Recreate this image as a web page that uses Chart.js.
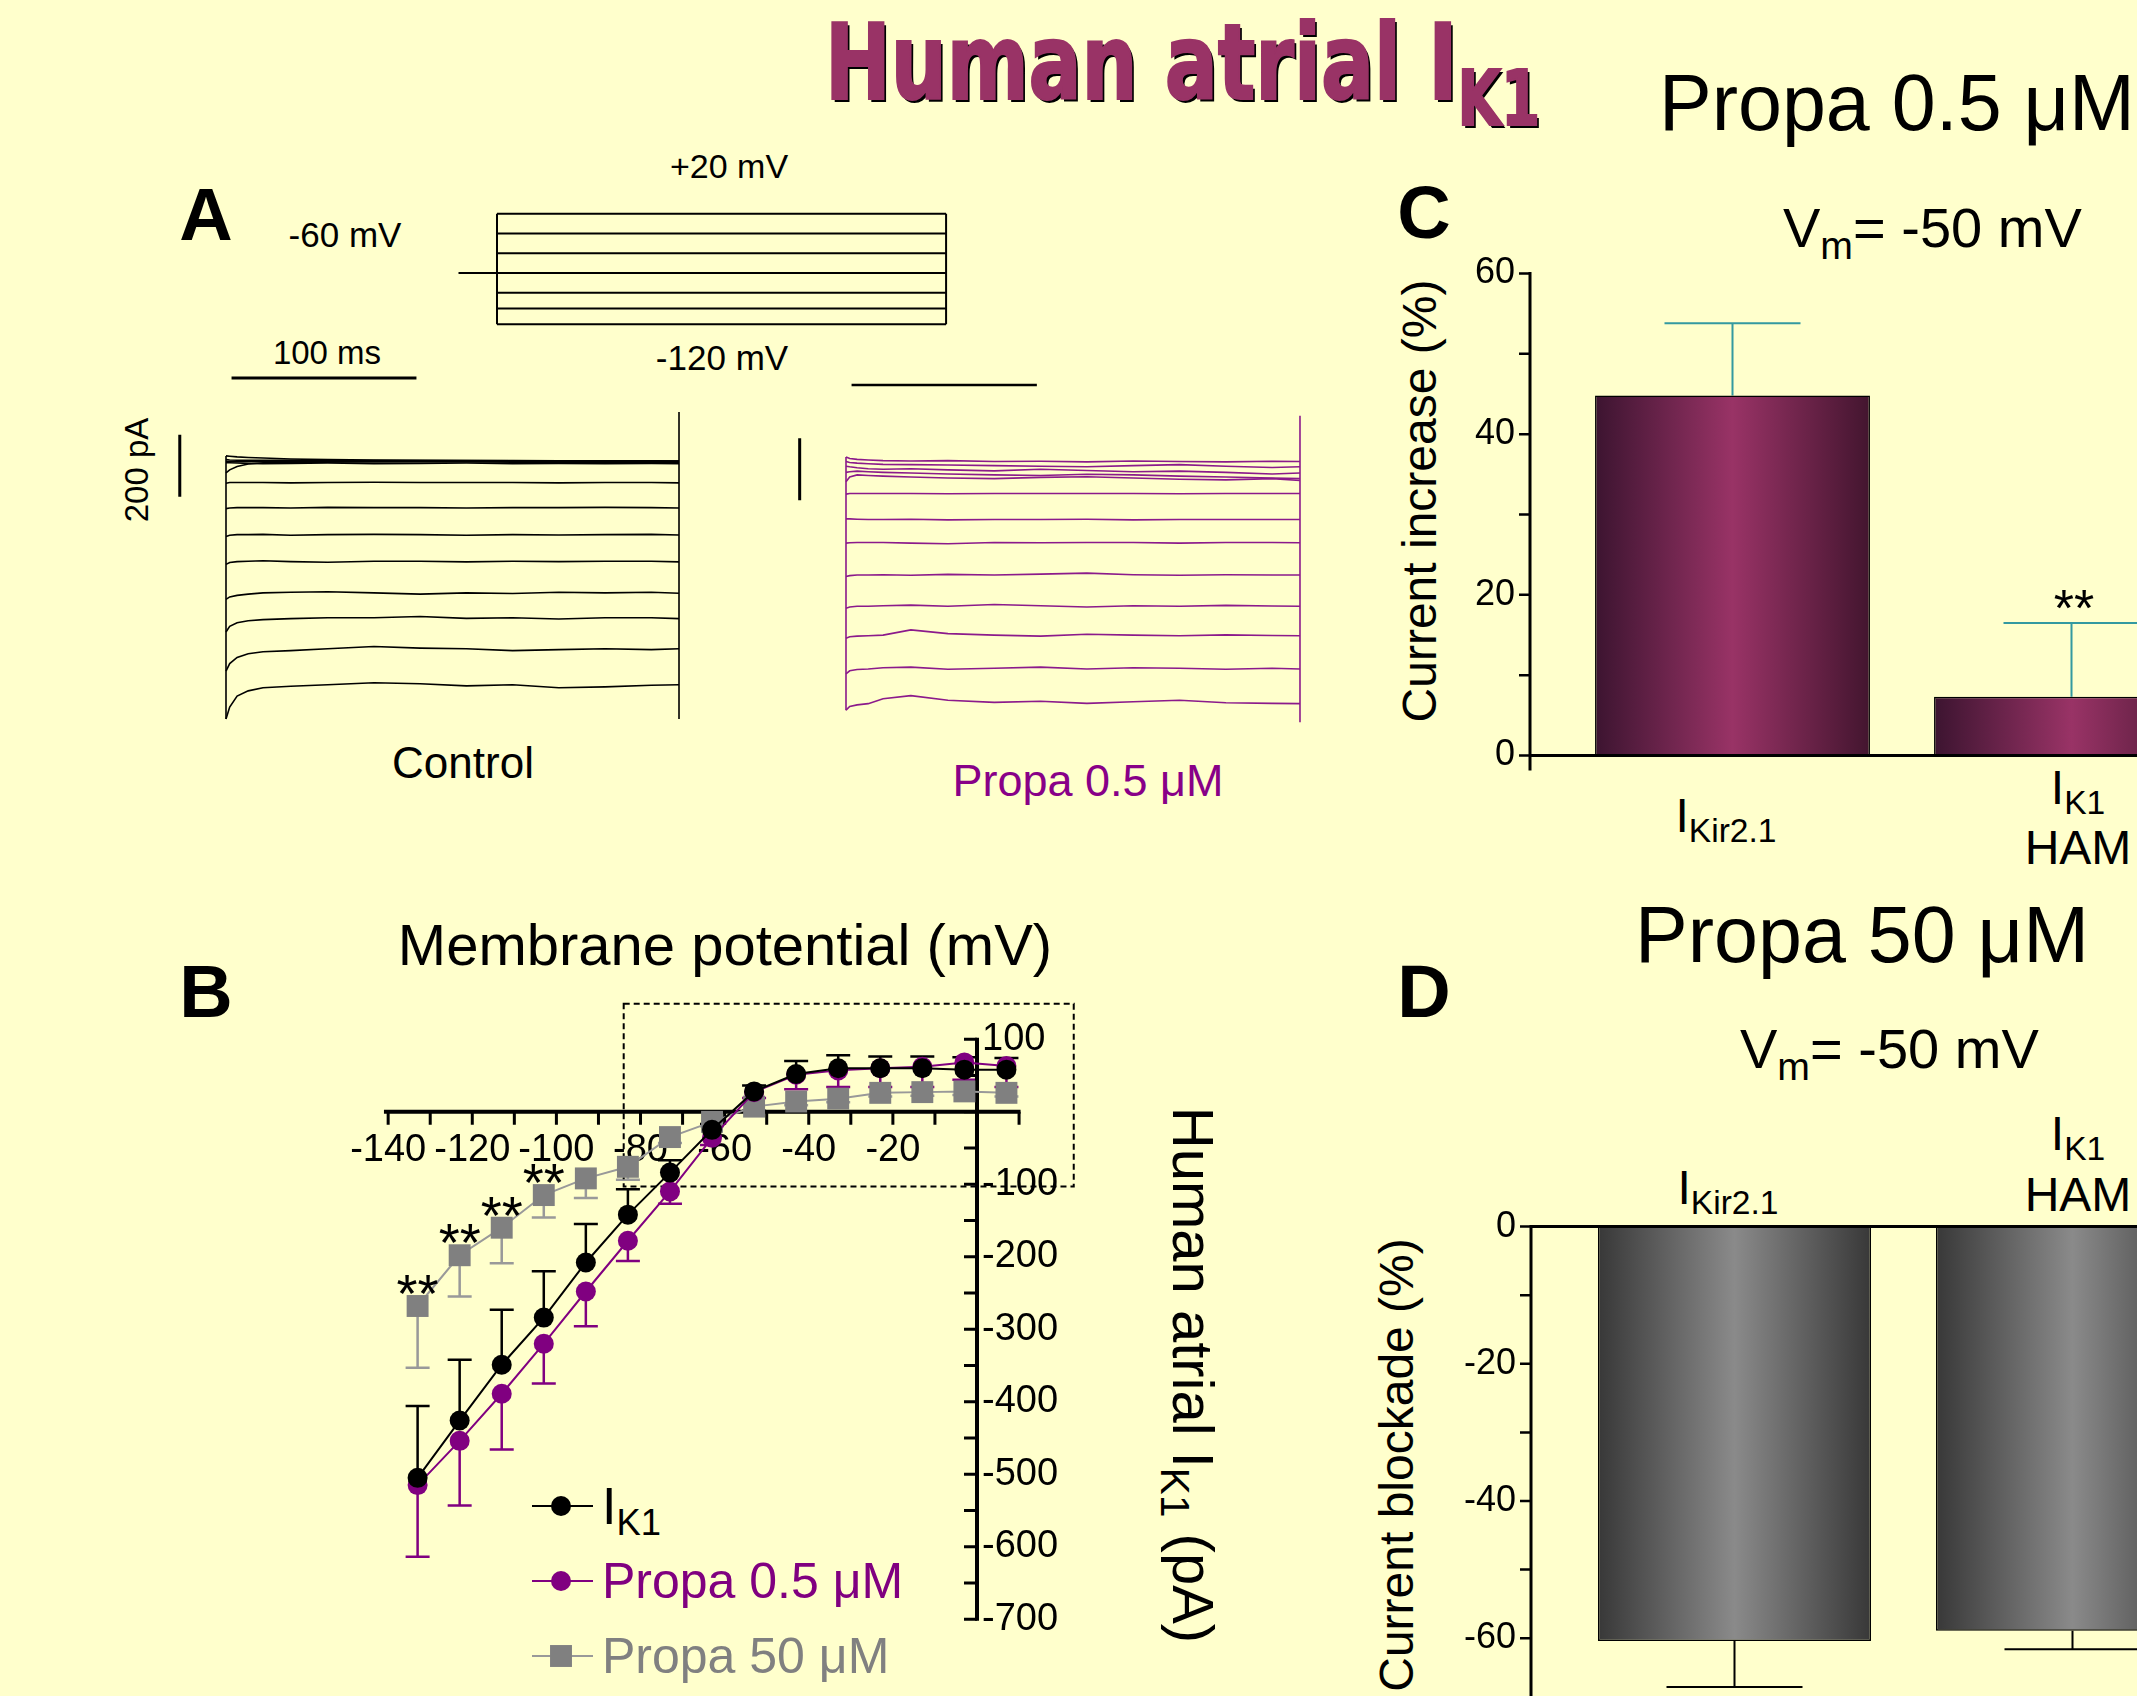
<!DOCTYPE html>
<html>
<head>
<meta charset="utf-8">
<title>Human atrial IK1</title>
<script src="https://cdn.jsdelivr.net/npm/chart.js@4.4.1/dist/chart.umd.min.js"></script>
<style>
  html, body { margin: 0; padding: 0; background: #ffffcc; }
  body { position: relative; width: 2137px; height: 1696px; overflow: hidden;
         font-family: "Liberation Sans", Arial, Helvetica, sans-serif; color: #000; }
  canvas { position: absolute; }
  .t { position: absolute; white-space: nowrap; line-height: 1; }
  .c { transform: translate(-50%, -50%); }
  .l { transform: translateY(-50%); }
  .up { transform: translate(-50%, -50%) rotate(-90deg); }
  .down { transform: translate(-50%, -50%) rotate(90deg); }
  .b { font-weight: bold; font-size: 74px; }
  sub { font-size: 70%; vertical-align: baseline; position: relative; top: 0.3em; }
  .purple { color: #880088; }
  .grey { color: #808080; }
  #title { left: 825px; top: 10px; font-family: "DejaVu Sans Condensed", "DejaVu Sans", sans-serif;
           font-weight: bold; font-size: 106px; color: #993366; text-shadow: 3px 3px 0 #000;
           -webkit-text-stroke: 2px #993366; transform-origin: 0 0; }
  #title span { font-size: 76px; position: relative; top: 26px; }
</style>
</head>
<body>

<div id="title" class="t">Human atrial I<span>K1</span></div>
<div class="t" style="left:1659px;top:63px;font-size:79px">Propa 0.5 μM</div>

<div class="t c b" style="left:206px;top:215px">A</div>
<div class="t c b" style="left:206px;top:992px">B</div>
<div class="t c b" style="left:1424px;top:213px">C</div>
<div class="t c b" style="left:1424px;top:992px">D</div>

<!-- panel A -->
<div class="t c" style="left:729px;top:166px;font-size:34px">+20 mV</div>
<div class="t c" style="left:345px;top:234px;font-size:35px">-60 mV</div>
<div class="t c" style="left:327px;top:352px;font-size:33px">100 ms</div>
<div class="t c" style="left:722px;top:357px;font-size:35px">-120 mV</div>
<div class="t up" style="left:136px;top:470px;font-size:33px">200 pA</div>
<div class="t c" style="left:463px;top:763px;font-size:44px">Control</div>
<div class="t c purple" style="left:1088px;top:780px;font-size:45px">Propa 0.5 μM</div>

<!-- panel B -->
<div class="t c" style="left:725px;top:945px;font-size:58px">Membrane potential (mV)</div>
<div class="t down" style="left:1193px;top:1375px;font-size:58px">Human atrial I<sub>K1</sub> (pA)</div>
<div class="t l" style="left:602px;top:1506px;font-size:52px">I<sub>K1</sub></div>
<div class="t l" style="left:602px;top:1581px;font-size:50px;color:#800080">Propa 0.5 μM</div>
<div class="t l grey" style="left:602px;top:1656px;font-size:50px">Propa 50 μM</div>

<!-- panel C -->
<div class="t l" style="left:1783px;top:228px;font-size:56px">V<sub>m</sub>= -50 mV</div>
<div class="t up" style="left:1420px;top:501px;font-size:48px">Current increase (%)</div>
<div class="t c" style="left:1726px;top:816px;font-size:48px">I<sub>Kir2.1</sub></div>
<div class="t c" style="left:2078px;top:788px;font-size:48px">I<sub>K1</sub></div>
<div class="t c" style="left:2078px;top:848px;font-size:48px">HAM</div>
<div class="t c" style="left:2074px;top:608px;font-size:52px">**</div>

<!-- panel D -->
<div class="t c" style="left:1862px;top:934px;font-size:79px">Propa 50 μM</div>
<div class="t l" style="left:1740px;top:1049px;font-size:56px">V<sub>m</sub>= -50 mV</div>
<div class="t up" style="left:1397px;top:1465px;font-size:48px">Current blockade (%)</div>
<div class="t c" style="left:1728px;top:1188px;font-size:48px">I<sub>Kir2.1</sub></div>
<div class="t c" style="left:2078px;top:1134px;font-size:48px">I<sub>K1</sub></div>
<div class="t c" style="left:2078px;top:1195px;font-size:48px">HAM</div>

<canvas id="protocol"></canvas>
<canvas id="control"></canvas>
<canvas id="propa"></canvas>
<canvas id="iv"></canvas>
<canvas id="increase"></canvas>
<canvas id="blockade"></canvas>

<script>
// ---------- data ----------

// panel A: voltage protocol (mV) and current traces (pA)
const pulseMs = 245;
const stepVoltages = [20, -5, -30, -55, -80, -100, -120];
const holdingVoltage = -55;
const scaleMs = 100;
const scalePa = 200;

const traceTimes = [0, 2, 6, 12, 20, 35, 55, 80, 105, 130, 155, 180, 205, 230, 245];

const controlTraces = [
  [10, 9, 7, 5, 3, 0, -2, -3, -4, -5, -5, -6, -6, -6, -7],
  [-2, -3, -4, -4, -4, -4, -5, -5, -5, -5, -6, -6, -6, -6, -7],
  [-8, -8, -9, -8, -8, -9, -8, -9, -8, -9, -8, -9, -8, -9, -8],
  [-45, -35, -24, -16, -12, -10, -10, -9, -9, -9, -10, -10, -10, -10, -10],
  [-12, -12, -13, -14, -15, -14, -13, -15, -14, -13, -15, -14, -15, -14, -15],
  [-78, -76, -76, -76, -76, -77, -76, -75, -76, -76, -76, -77, -76, -76, -77],
  [-160, -158, -157, -157, -157, -158, -156, -157, -157, -158, -157, -157, -156, -157, -158],
  [-250, -246, -244, -244, -243, -246, -244, -243, -244, -246, -244, -245, -244, -243, -245],
  [-340, -334, -331, -330, -328, -331, -333, -330, -330, -332, -330, -331, -330, -330, -332],
  [-453, -445, -440, -436, -432, -430, -428, -432, -436, -432, -434, -430, -432, -430, -433],
  [-558, -540, -528, -522, -518, -515, -512, -512, -508, -514, -512, -516, -512, -512, -515],
  [-684, -660, -640, -628, -622, -618, -612, -605, -610, -612, -618, -615, -612, -615, -612],
  [-839, -800, -765, -748, -738, -733, -728, -722, -725, -732, -728, -738, -735, -730, -728]
];
const controlTail = [152, -839];

const propaTraces = [
  [10, 5, 2, 0, -2, -3, -2, -5, -4, -6, -3, -5, -6, -4, -5],
  [-5, -8, -10, -12, -14, -15, -16, -18, -20, -22, -18, -15, -20, -24, -22],
  [-20, -22, -25, -28, -30, -28, -32, -35, -30, -34, -38, -36, -40, -45, -42],
  [-40, -38, -36, -38, -40, -42, -45, -48, -50, -46, -48, -52, -55, -58, -60],
  [-70, -55, -48, -50, -52, -55, -58, -60, -56, -54, -58, -62, -64, -60, -66],
  [-110, -108, -108, -108, -108, -108, -109, -108, -108, -108, -108, -109, -108, -108, -108],
  [-190, -190, -191, -192, -192, -191, -193, -192, -192, -191, -193, -192, -192, -192, -192],
  [-268, -267, -266, -266, -266, -268, -270, -266, -267, -266, -266, -268, -266, -266, -267],
  [-376, -373, -371, -371, -370, -372, -369, -371, -368, -365, -370, -372, -370, -371, -371],
  [-478, -474, -472, -472, -470, -468, -472, -466, -470, -474, -470, -472, -469, -471, -472],
  [-575, -570, -568, -567, -565, -548, -560, -565, -568, -562, -565, -567, -564, -566, -567],
  [-690, -680, -676, -674, -670, -668, -675, -672, -668, -674, -670, -672, -675, -672, -674],
  [-807, -795, -790, -786, -770, -760, -775, -782, -778, -785, -780, -775, -783, -785, -786]
];
const propaTail = [143, -846];

// panel B: I-V relationship
const membraneV = [-133, -123, -113, -103, -93, -83, -73, -63, -53, -43, -33, -23, -13, -3, 7];
const ik1Mean = [-505, -426, -349, -284, -208, -142, -84, -25, 28, 52, 60, 60, 60, 58, 58];
const ik1Sem = [99, 84, 76, 64, 53, 35, 17, 8, 8, 18, 18, 16, 16, 17, 16];
const propa05Mean = [-515, -454, -389, -320, -248, -178, -110, -36, 27, 51, 57, 60, 62, 68, 63];
const propa05Sem = [99, 89, 77, 55, 48, 28, 17, 10, 8, 20, 23, 26, 28, 24, 29];
const propa50Mean = [-268, -198, -160, -115, -92, -76, -35, -14, 7, 14, 18, 26, 27, 28, 26];
const propa50Sem = [85, 57, 49, 31, 27, 18, 8, 6, 5, 5, 5, 5, 5, 5, 5];
const starredPoints = [0, 1, 2, 3];
const xTicksB = [-140, -130, -120, -110, -100, -90, -80, -70, -60, -50, -40, -30, -20, -10, 0, 10];
const xLabelsB = [-140, -120, -100, -80, -60, -40, -20];
const yTicksB = [100, 50, 0, -50, -100, -150, -200, -250, -300, -350, -400, -450, -500, -550, -600, -650, -700];
const yLabelsB = [100, -100, -200, -300, -400, -500, -600, -700];
const zoomBoxV = [-84, 23];
const zoomBoxI = [-103, 149];

// panels C and D
const barLabels = ['IKir2.1', 'IK1 HAM'];
const increaseMean = [44.8, 7.3];
const increaseSem = [9.0, 9.2];
const blockadeMean = [-60.4, -58.9];
const blockadeSem = [6.7, 2.7];
const yTicksC = [0, 10, 20, 30, 40, 50, 60];
const yLabelsC = [0, 20, 40, 60];
const yTicksD = [0, -10, -20, -30, -40, -50, -60, -70];
const yLabelsD = [0, -20, -40, -60];

// ---------- helpers ----------
const FONT = '"Liberation Sans", Arial, Helvetica, sans-serif';

function mount(id, area, pad) {
  const cv = document.getElementById(id);
  const left = Math.floor(area.l - pad[0]), top = Math.floor(area.t - pad[1]);
  const right = Math.ceil(area.r + pad[2]), bottom = Math.ceil(area.b + pad[3]);
  cv.width = right - left;
  cv.height = bottom - top;
  cv.style.left = left + 'px';
  cv.style.top = top + 'px';
  cv.style.width = cv.width + 'px';
  cv.style.height = cv.height + 'px';
  return {
    canvas: cv, origin: { x: left, y: top },
    padding: { left: area.l - left, top: area.t - top, right: right - area.r, bottom: bottom - area.b }
  };
}

// pixel of value 0 and px per unit -> chart area edges
function area(x0, kx, xr, y0, ky, yr) {
  return { l: x0 + kx * xr[0], r: x0 + kx * xr[1], t: y0 - ky * yr[1], b: y0 - ky * yr[0] };
}

function options(m, x, y) {
  return {
    responsive: false, animation: false, devicePixelRatio: 1, events: [],
    layout: { padding: m.padding },
    plugins: { legend: { display: false }, tooltip: { enabled: false } },
    scales: { x: Object.assign({ display: false }, x), y: Object.assign({ display: false }, y) }
  };
}

function path(points, color, width) {
  return {
    data: points.map(([x, y]) => ({ x, y })), showLine: true, borderColor: color,
    borderWidth: width, pointRadius: 0, tension: 0, clip: false, fill: false
  };
}

function traceSets(traces, color, tail) {
  const sets = traces.map(v => path(traceTimes.map((t, i) => [t, v[i]]), color, 1.6));
  const first = traces.map(v => v[0]);
  sets.push(path([[0, Math.max(...first)], [0, Math.min(...first)]], color, 1.6));
  sets.push(path([[pulseMs, tail[0]], [pulseMs, tail[1]]], color, 1.6));
  return sets;
}

const errorBars = {
  id: 'errorBars',
  beforeDatasetsDraw(chart) {
    const { ctx } = chart;
    const ys = chart.scales.y;
    chart.data.datasets.forEach((ds, i) => {
      if (!ds.errors) return;
      const meta = chart.getDatasetMeta(i);
      ctx.save();
      ctx.strokeStyle = ds.errorColor;
      ctx.lineWidth = ds.errorWidth;
      meta.data.forEach((el, j) => {
        const raw = ds.data[j];
        const val = typeof raw === 'object' ? raw.y : raw;
        const y = ys.getPixelForValue(val);
        const end = ys.getPixelForValue(val + ds.errDir * ds.errors[j]);
        ctx.beginPath();
        ctx.moveTo(el.x, y);
        ctx.lineTo(el.x, end);
        ctx.moveTo(el.x - ds.capHalf, end);
        ctx.lineTo(el.x + ds.capHalf, end);
        ctx.stroke();
      });
      ctx.restore();
    });
  }
};

// ---------- panel A ----------
const mP = mount('protocol', area(497, 1.833, [-25, 250], 229.5, 0.79, [-125, 25]), [4, 4, 4, 4]);
const protocolSets = stepVoltages.map(v => path([[0, v], [pulseMs, v]], '#000', 2));
protocolSets.push(path([[-21, holdingVoltage], [0, holdingVoltage]], '#000', 2));
protocolSets.push(path([[0, Math.max(...stepVoltages)], [0, Math.min(...stepVoltages)]], '#000', 2));
protocolSets.push(path([[pulseMs, Math.max(...stepVoltages)], [pulseMs, Math.min(...stepVoltages)]], '#000', 2));
new Chart(mP.canvas, {
  type: 'scatter',
  data: { datasets: protocolSets },
  options: options(mP, { type: 'linear', min: -25, max: 250 }, { type: 'linear', min: -125, max: 25 })
});

const mCtl = mount('control', area(226, 1.849, [-40, 250], 459, 0.31, [-900, 300]), [4, 4, 4, 4]);
const controlSets = traceSets(controlTraces, '#000', controlTail);
controlSets.push(path([[3, 261], [3 + scaleMs, 261]], '#000', 3));
controlSets.push(path([[-25, 78], [-25, 78 - scalePa]], '#000', 3));
new Chart(mCtl.canvas, {
  type: 'scatter',
  data: { datasets: controlSets },
  options: options(mCtl, { type: 'linear', min: -40, max: 250 }, { type: 'linear', min: -900, max: 300 })
});

const mPr = mount('propa', area(846, 1.853, [-40, 250], 460, 0.31, [-900, 300]), [4, 4, 4, 4]);
const propaSets = traceSets(propaTraces, '#8b1a8b', propaTail);
propaSets.push(path([[3, 242], [3 + scaleMs, 242]], '#000', 2.5));
propaSets.push(path([[-25, 70], [-25, 70 - scalePa]], '#000', 3));
new Chart(mPr.canvas, {
  type: 'scatter',
  data: { datasets: propaSets },
  options: options(mPr, { type: 'linear', min: -40, max: 250 }, { type: 'linear', min: -900, max: 300 })
});

// ---------- panel B ----------
const mB = mount('iv', area(977, 4.206, [-141, 10], 1111.7, 0.725, [-700, 100]), [100, 45, 70, 70]);

const axesB = {
  id: 'axesB',
  beforeDatasetsDraw(chart) {
    const { ctx, scales: { x, y } } = chart;
    const x0 = x.getPixelForValue(0), y0 = y.getPixelForValue(0);
    ctx.save();
    // dashed zoom box
    ctx.setLineDash([6, 4]);
    ctx.lineWidth = 2;
    ctx.strokeStyle = '#000';
    const bx1 = x.getPixelForValue(zoomBoxV[0]), bx2 = x.getPixelForValue(zoomBoxV[1]);
    const by1 = y.getPixelForValue(zoomBoxI[1]), by2 = y.getPixelForValue(zoomBoxI[0]);
    ctx.strokeRect(bx1, by1, bx2 - bx1, by2 - by1);
    ctx.setLineDash([]);
    // axis lines
    ctx.lineWidth = 4;
    ctx.beginPath();
    ctx.moveTo(x.getPixelForValue(-141), y0);
    ctx.lineTo(x.getPixelForValue(10) + 1.5, y0);
    ctx.moveTo(x0, y.getPixelForValue(100) - 1.5);
    ctx.lineTo(x0, y.getPixelForValue(-700) + 1.5);
    ctx.stroke();
    ctx.lineWidth = 3;
    ctx.beginPath();
    xTicksB.forEach(v => {
      const px = x.getPixelForValue(v);
      ctx.moveTo(px, y0);
      ctx.lineTo(px, y0 + 13);
    });
    yTicksB.forEach(v => {
      const py = y.getPixelForValue(v);
      ctx.moveTo(x0 - 13, py);
      ctx.lineTo(x0, py);
    });
    ctx.stroke();
    ctx.fillStyle = '#000';
    ctx.font = '38px ' + FONT;
    ctx.textBaseline = 'middle';
    ctx.textAlign = 'center';
    xLabelsB.forEach(v => ctx.fillText(String(v), x.getPixelForValue(v), y0 + 39));
    ctx.textAlign = 'left';
    yLabelsB.forEach(v => ctx.fillText(String(v), x0 + 5, y.getPixelForValue(v)));
    ctx.restore();
  },
  afterDatasetsDraw(chart) {
    const { ctx } = chart;
    ctx.save();
    // significance marks over the 50 uM points
    const grey = chart.getDatasetMeta(2);
    ctx.fillStyle = '#000';
    ctx.font = '54px ' + FONT;
    ctx.textAlign = 'center';
    ctx.textBaseline = 'alphabetic';
    starredPoints.forEach(i => {
      const el = grey.data[i];
      ctx.fillText('**', el.x, el.y + 6);
    });
    // legend symbols
    const rows = [1506, 1581, 1656];
    chart.data.datasets.forEach((ds, i) => {
      const yy = rows[i] - mB.origin.y;
      const xa = 532 - mB.origin.x, xb = 593 - mB.origin.x, xm = 561 - mB.origin.x;
      ctx.strokeStyle = ds.borderColor;
      ctx.lineWidth = 2;
      ctx.beginPath();
      ctx.moveTo(xa, yy);
      ctx.lineTo(xb, yy);
      ctx.stroke();
      ctx.fillStyle = ds.pointBackgroundColor;
      ctx.strokeStyle = ds.pointBackgroundColor;
      Chart.helpers.drawPoint(ctx, { pointStyle: ds.pointStyle, radius: ds.pointRadius, rotation: 0, borderWidth: 0 }, xm, yy);
    });
    ctx.restore();
  }
};

function ivSet(label, mean, sem, dir, color, lineColor, errColor, style, radius) {
  return {
    label, data: membraneV.map((v, i) => ({ x: v, y: mean[i] })),
    errors: sem, errDir: dir, errorColor: errColor, errorWidth: 2.5, capHalf: 12,
    showLine: true, borderColor: lineColor, borderWidth: 2, tension: 0, clip: false,
    pointStyle: style, pointRadius: radius, pointBackgroundColor: color,
    pointBorderColor: color, pointBorderWidth: 0
  };
}

new Chart(mB.canvas, {
  type: 'scatter',
  data: {
    datasets: [
      ivSet('IK1', ik1Mean, ik1Sem, 1, '#000', '#000', '#000', 'circle', 10),
      ivSet('Propa 0.5 μM', propa05Mean, propa05Sem, -1, '#800080', '#800080', '#800080', 'circle', 10),
      ivSet('Propa 50 μM', propa50Mean, propa50Sem, -1, '#808080', '#999999', '#999999', 'rect', 15.5)
    ]
  },
  options: options(mB, { type: 'linear', min: -141, max: 10 }, { type: 'linear', min: -700, max: 100 }),
  plugins: [errorBars, axesB]
});

// ---------- panels C and D ----------
function barFill(c, stops) {
  const ch = c.chart, xs = ch.scales.x;
  if (!ch.chartArea || !xs) return stops[1];
  const mid = xs.getPixelForValue(c.dataIndex);
  const half = xs.width / barLabels.length * c.dataset.barPercentage / 2;
  const g = ch.ctx.createLinearGradient(mid - half, 0, mid + half, 0);
  g.addColorStop(0, stops[0]);
  g.addColorStop(0.5, stops[1]);
  g.addColorStop(1, stops[2]);
  return g;
}

function barAxes(id, axisShift, ticks, labels, below) {
  return {
    id,
    afterDatasetsDraw(chart) {
      const { ctx, scales: { y } } = chart;
      const ax = chart.chartArea.left + axisShift;
      const y0 = y.getPixelForValue(0);
      ctx.save();
      ctx.strokeStyle = '#000';
      ctx.lineWidth = 3;
      ctx.beginPath();
      ctx.moveTo(ax, y.getPixelForValue(Math.max(...ticks)) - 1.5);
      ctx.lineTo(ax, below ? chart.height : y0 + 15);
      ctx.moveTo(ax, y0);
      ctx.lineTo(chart.width, y0);
      ctx.stroke();
      ctx.lineWidth = 2.5;
      ctx.beginPath();
      ticks.forEach(v => {
        const py = y.getPixelForValue(v);
        ctx.moveTo(ax - 11, py);
        ctx.lineTo(ax, py);
      });
      ctx.stroke();
      ctx.fillStyle = '#000';
      ctx.font = '36px ' + FONT;
      ctx.textAlign = 'right';
      ctx.textBaseline = 'middle';
      labels.forEach(v => ctx.fillText(String(v), ax - 15, y.getPixelForValue(v)));
      ctx.restore();
    }
  };
}

const mC = mount('increase', area(1563, 339, [0, 2], 755.5, 8.033, [0, 60]), [125, 30, 0, 25]);
new Chart(mC.canvas, {
  type: 'bar',
  data: {
    labels: barLabels,
    datasets: [{
      data: increaseMean, errors: increaseSem, errDir: 1, errorColor: '#3399a0', errorWidth: 2, capHalf: 68,
      backgroundColor: c => barFill(c, ['#3c1430', '#993366', '#43152f']),
      borderColor: '#000', borderWidth: 1.5, borderSkipped: false,
      barPercentage: 0.811, categoryPercentage: 1
    }]
  },
  options: options(mC, { type: 'category', offset: true }, { type: 'linear', min: 0, max: 60 }),
  plugins: [errorBars, barAxes('axesC', -33, yTicksC, yLabelsC, false)]
});

const mD = mount('blockade', area(1565.5, 338, [0, 2], 1226.6, 6.86, [-72, 0]), [120, 30, 0, 0]);
new Chart(mD.canvas, {
  type: 'bar',
  data: {
    labels: barLabels,
    datasets: [{
      data: blockadeMean, errors: blockadeSem, errDir: -1, errorColor: '#000', errorWidth: 2, capHalf: 68,
      backgroundColor: c => barFill(c, ['#383838', '#8a8a8a', '#383838']),
      borderColor: '#000', borderWidth: 1.5, borderSkipped: false,
      barPercentage: 0.808, categoryPercentage: 1
    }]
  },
  options: options(mD, { type: 'category', offset: true }, { type: 'linear', min: -72, max: 0 }),
  plugins: [errorBars, barAxes('axesD', -34.5, yTicksD, yLabelsD, true)]
});

// squeeze the heading to its printed width
const title = document.getElementById('title');
title.style.transform = 'scaleX(' + (715 / title.offsetWidth) + ')';
</script>
</body>
</html>
